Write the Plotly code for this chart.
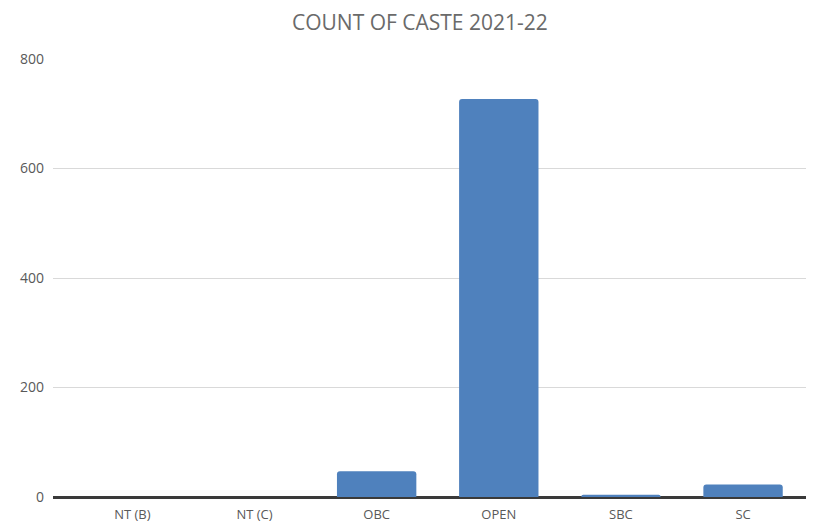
import plotly.graph_objects as go

categories = ["NT (B)", "NT (C)", "OBC", "OPEN", "SBC", "SC"]
counts = [0, 0, 47, 727, 4, 23]
y_ticks = [0, 200, 400, 600, 800]

fig = go.Figure(go.Bar(
    x=categories, y=counts,
    marker=dict(color="#4f81bd", line=dict(width=0)),
    width=0.65,
))

fig.update_layout(
    width=814, height=529,
    margin=dict(l=39, r=13, t=51, b=40),
    paper_bgcolor="white", plot_bgcolor="white",
    barcornerradius=3,
    title=dict(text="COUNT OF CASTE 2021-22", x=0.506, xanchor="center", y=0.987, yanchor="top",
               pad=dict(t=0, b=0),
               font=dict(family="Open Sans, Liberation Sans, sans-serif", size=21, color="#6a6a6a")),
    font=dict(family="Open Sans, Liberation Sans, sans-serif", size=13, color="#595959"),
    showlegend=False,
)
fig.update_xaxes(range=[-0.65, 5.54], showgrid=False, ticks="", showline=False,
                 ticklabelstandoff=8,
                 tickfont=dict(size=13, color="#595959"))
fig.update_yaxes(range=[0, 800], tickvals=y_ticks, showgrid=True, gridcolor="#d9d9d9", gridwidth=1,
                 zeroline=True, zerolinecolor="#3a3a3a", zerolinewidth=2.5,
                 showline=False, ticks="", ticklabelstandoff=8,
                 tickfont=dict(size=14, color="#595959"))

fig.write_html("out.html")
